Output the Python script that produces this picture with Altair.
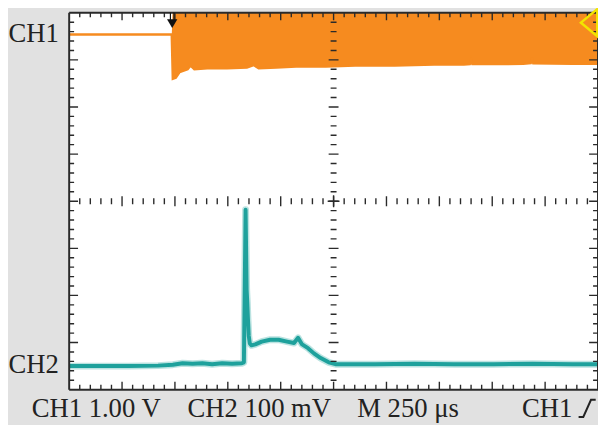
import altair as alt
import pandas as pd

# ---------------- data (read from the screen) ----------------
# time in microseconds from the left edge of the screen (M 250 us/div, 10 div)
# CH1: 1.00 V/div, envelope of the fast oscillation (lower / upper), volts
ch1_t = [0, 485, 490, 504, 522, 560, 574, 592, 653, 746,
         840, 872, 896, 979, 1073, 1213, 1353, 1539, 1726, 1866,
         1894, 1900, 1906, 2052, 2146, 2182, 2188, 2194, 2379, 2500]
ch1_low = [0, 0, -0.94, -0.92, -0.80, -0.74, -0.66, -0.74, -0.72, -0.72,
           -0.70, -0.65, -0.72, -0.70, -0.68, -0.68, -0.66, -0.66, -0.64, -0.64,
           -0.63, -0.53, -0.63, -0.63, -0.62, -0.61, -0.49, -0.61, -0.62, -0.62]
ch1_high = [0, 0, 0.6, 0.6, 0.6, 0.6, 0.6, 0.6, 0.6, 0.6,
            0.6, 0.6, 0.6, 0.6, 0.6, 0.6, 0.6, 0.6, 0.6, 0.6,
            0.6, 0.6, 0.6, 0.6, 0.6, 0.6, 0.6, 0.6, 0.6, 0.6]

# CH2: 100 mV/div, millivolts
ch2_t = [0, 140, 280, 420, 490, 536, 583, 630, 676, 723,
         770, 816, 826, 834, 839, 842, 845, 849, 854, 862,
         880, 910, 950, 990, 1030, 1063, 1082, 1101, 1129, 1157,
         1189, 1227, 1259, 1446, 1632, 1819, 2006, 2192, 2379, 2500]
ch2_mv = [-2, -2, -2, -1, 1, 4, 3, 4, 2, 4,
          3, 4, 6, 330, 160, 134, 100, 62, 46, 42,
          44, 50, 54, 54, 50, 47, 58, 44, 36, 25,
          15, 6, 2, 2, 3, 2, 2, 3, 2, 2]

ch1_volts_per_div = 1.0
ch2_mv_per_div = 100.0
ch1_offset_div = 3.54     # CH1 ground marker position (div above centre)
ch2_offset_div = -3.48    # CH2 ground marker position
trigger_t = 487           # trigger position (us from left edge)
trigger_level_v = 0.25    # CH1 trigger level

labels_left = ["CH1", "CH2"]
labels_bottom = ["CH1 1.00 V", "CH2 100 mV", "M 250 \u03bcs", "CH1"]

us_per_div = 250
n_div_x, n_div_y = 10, 8

# ---------------- styles ----------------
ORANGE = "#f68b1f"
TEAL = "#1ea19c"
GRID = "#2a2a2a"
TXT = "#222222"
FONT = "Liberation Serif"
W, H = 536, 382

X_SCALE = alt.Scale(domain=[0, n_div_x * us_per_div], nice=False, zero=False)
Y_SCALE = alt.Scale(domain=[-n_div_y / 2, n_div_y / 2], nice=False, zero=False)

df1 = pd.DataFrame({"t": ch1_t, "low": ch1_low, "high": ch1_high})
df1["ylo"] = ch1_offset_div + df1["low"] / ch1_volts_per_div
df1["yhi"] = ch1_offset_div + df1["high"] / ch1_volts_per_div

df2 = pd.DataFrame({"t": ch2_t, "mv": ch2_mv})
df2["y"] = ch2_offset_div + df2["mv"] / ch2_mv_per_div

X = alt.X("t:Q", scale=X_SCALE, axis=None)

area1 = alt.Chart(df1).mark_area(color=ORANGE, opacity=1, clip=True).encode(
    x=X, y=alt.Y("ylo:Q", scale=Y_SCALE, axis=None), y2="yhi:Q")
line1 = alt.Chart(df1).mark_line(color=ORANGE, strokeWidth=2.5, clip=True).encode(
    x=X, y=alt.Y("ylo:Q", scale=Y_SCALE, axis=None))
glow2 = alt.Chart(df2).mark_line(color=TEAL, strokeWidth=7, opacity=0.3,
                                 strokeJoin="round", clip=True).encode(
    x=X, y=alt.Y("y:Q", scale=Y_SCALE, axis=None))
line2 = alt.Chart(df2).mark_line(color=TEAL, strokeWidth=4, strokeJoin="round",
                                 clip=True).encode(
    x=X, y=alt.Y("y:Q", scale=Y_SCALE, axis=None))

# ---------------- graticule ----------------
sub = 5
minor_x = [i / sub * us_per_div for i in range(n_div_x * sub + 1) if i % sub]
major_x = [i * us_per_div for i in range(1, n_div_x)]
minor_y = [-n_div_y / 2 + i / sub for i in range(n_div_y * sub + 1) if i % sub]
major_y = [-n_div_y / 2 + i for i in range(1, n_div_y)]


def vticks(xs, ypos, size):
    d = pd.DataFrame({"gx": xs, "gy": [ypos] * len(xs)})
    return alt.Chart(d).mark_tick(orient="vertical", size=size, thickness=1.4,
                                  color=GRID, opacity=1, clip=True).encode(
        x=alt.X("gx:Q", scale=X_SCALE, axis=None),
        y=alt.Y("gy:Q", scale=Y_SCALE, axis=None))


def hticks(ys, xpos, size):
    d = pd.DataFrame({"gy": ys, "gx": [xpos] * len(ys)})
    return alt.Chart(d).mark_tick(orient="horizontal", size=size, thickness=1.4,
                                  color=GRID, opacity=1, clip=True).encode(
        x=alt.X("gx:Q", scale=X_SCALE, axis=None),
        y=alt.Y("gy:Q", scale=Y_SCALE, axis=None))


xmax = n_div_x * us_per_div
ymax = n_div_y / 2
grat = [
    vticks(minor_x, ymax, 9), vticks(major_x, ymax, 15),
    vticks(minor_x, -ymax, 10), vticks(major_x, -ymax, 16),
    hticks(minor_y, 0, 10), hticks(major_y, 0, 18),
    hticks(minor_y, xmax, 10), hticks(major_y, xmax, 18),
    vticks(minor_x, 0, 6), vticks(major_x, 0, 10),
    hticks(minor_y, xmax / 2, 6), hticks(major_y, xmax / 2, 10),
    hticks([0], xmax / 2, 12), vticks([xmax / 2], 0, 12),
]

one = pd.DataFrame({"a": [0]})
frame = [
    alt.Chart(one).mark_rule(color=GRID, strokeWidth=2).encode(
        x=alt.value(0), x2=alt.value(W), y=alt.value(0)),
    alt.Chart(one).mark_rule(color=GRID, strokeWidth=2).encode(
        x=alt.value(0), x2=alt.value(W), y=alt.value(H)),
    alt.Chart(one).mark_rule(color=GRID, strokeWidth=2).encode(
        x=alt.value(0), y=alt.value(0), y2=alt.value(H)),
    alt.Chart(one).mark_rule(color=GRID, strokeWidth=2).encode(
        x=alt.value(W), y=alt.value(0), y2=alt.value(H)),
]

# trigger position marker
dtr = pd.DataFrame({"t": [trigger_t]})
trig = [
    alt.Chart(dtr).mark_rule(color="#111", strokeWidth=1.2, xOffset=-1.8).encode(
        x=X, y=alt.value(0), y2=alt.value(9)),
    alt.Chart(dtr).mark_rule(color="#111", strokeWidth=1.2, xOffset=1.8).encode(
        x=X, y=alt.value(0), y2=alt.value(9)),
    alt.Chart(dtr).mark_point(shape="triangle-down", filled=True, color="#111",
                              opacity=1, size=110).encode(x=X, y=alt.value(11)),
]

# trigger level marker (hollow yellow arrow at right)
dlev = pd.DataFrame({"gy": [ch1_offset_div + trigger_level_v / ch1_volts_per_div]})
level = alt.Chart(dlev).mark_point(
    shape="M -0.6 0 L 0.6 -1 L 0.6 1 Z", filled=False, stroke="#f2e400",
    strokeWidth=2.5, opacity=1, size=760).encode(
    x=alt.value(W - 9), y=alt.Y("gy:Q", scale=Y_SCALE, axis=None))

# ---------------- text ----------------
dl = pd.DataFrame({"gy": [ch1_offset_div, ch2_offset_div], "lab": labels_left})
left_txt = alt.Chart(dl).mark_text(font=FONT, fontSize=27, color=TXT, align="center",
                                   baseline="middle").encode(
    x=alt.value(-36), y=alt.Y("gy:Q", scale=Y_SCALE, axis=None), text="lab:N")

bottom_x = [-38, 120, 292, 459]
bottom = [
    alt.Chart(one).mark_text(text=lab, font=FONT, fontSize=27, color=TXT,
                             align="left", baseline="alphabetic").encode(
        x=alt.value(bx), y=alt.value(H + 28))
    for lab, bx in zip(labels_bottom, bottom_x)
]
slope = alt.Chart(one).mark_point(
    shape="M -1 1 L -0.45 1 L 0.45 -1 L 1 -1", filled=False, stroke=TXT,
    strokeWidth=2, opacity=1, size=300).encode(x=alt.value(525), y=alt.value(H + 19))

chart = alt.layer(
    area1, line1, glow2, line2, *grat, *frame, *trig, level, left_txt, *bottom, slope
).properties(
    width=W, height=H,
    padding={"left": 62, "top": 2, "right": 0, "bottom": 33},
    autosize=alt.AutoSizeParams(type="none"),
    background="#e1e1e1",
).configure_view(fill="white", stroke="transparent")

chart.save("out.html", embed_options={"renderer": "svg", "actions": False})
